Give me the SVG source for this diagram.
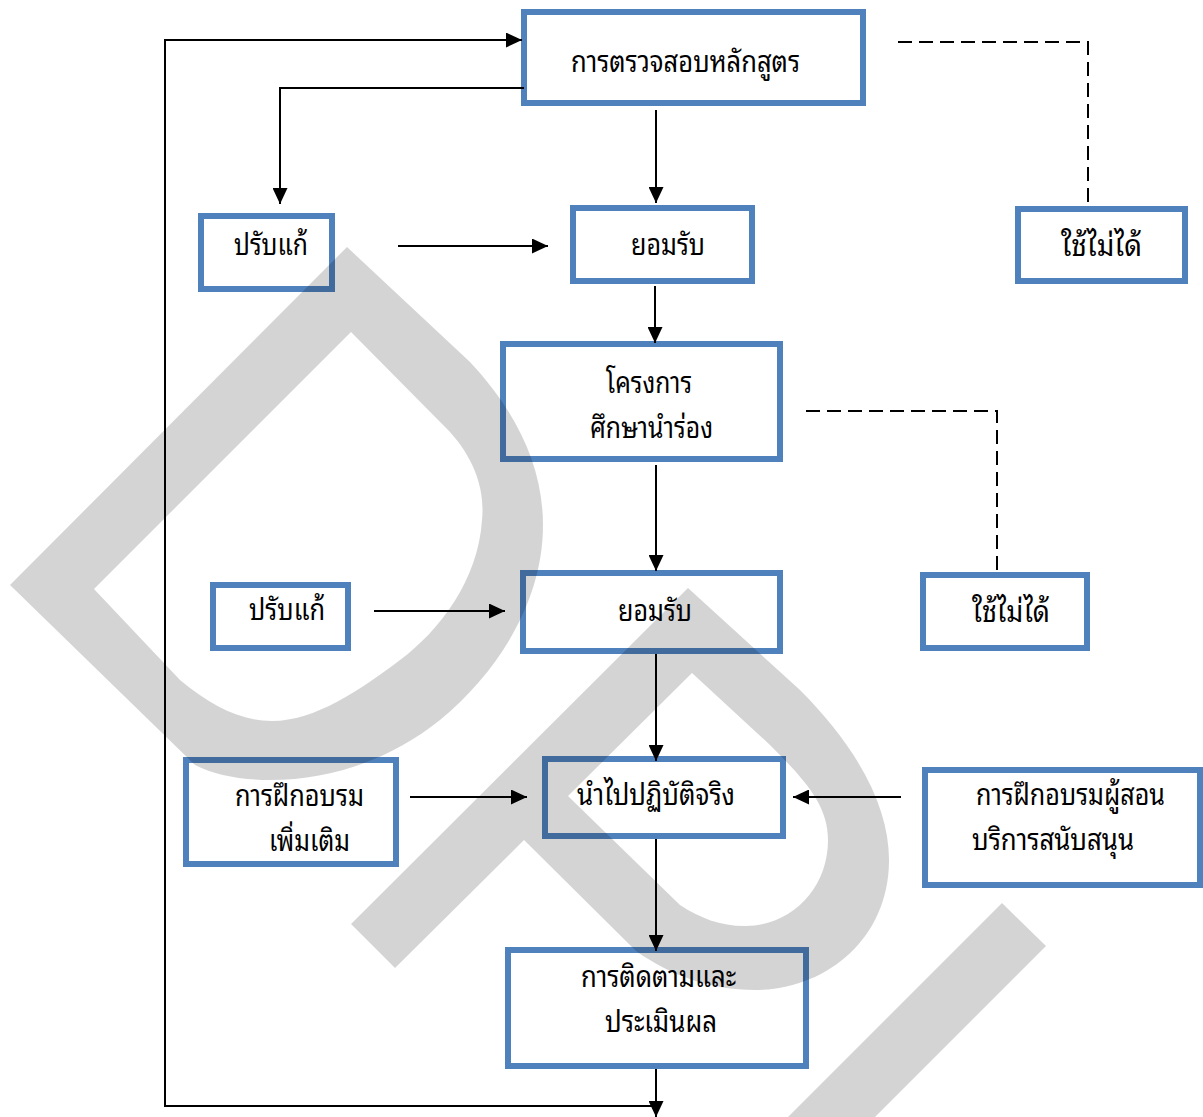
<svg xmlns="http://www.w3.org/2000/svg" width="1203" height="1117" viewBox="0 0 1203 1117">
<style>
.box{fill:#ffffff;stroke:#4f81bd;stroke-width:6}
.t{font-family:'Noto Sans Thai Looped','Noto Serif Thai','Noto Sans Thai','Noto Sans','DejaVu Sans',sans-serif;font-size:29px;fill:#000000}
.c{fill:none;stroke:#000000;stroke-width:2}
.d{fill:none;stroke:#000000;stroke-width:2;stroke-dasharray:14 7}
.wm{fill:#000000;fill-opacity:0.17;fill-rule:evenodd}
</style>
<defs>
<marker id="arr" markerUnits="userSpaceOnUse" markerWidth="16" markerHeight="15" refX="16" refY="7.5" orient="auto">
<path d="M0,0 L16,7.5 L0,15 Z" fill="#000000"/>
</marker>
</defs>
<rect width="1203" height="1117" fill="#ffffff"/>
<g id="n1"><rect class="box" x="524" y="12" width="339" height="91"/><text class="t" x="571" y="72" textLength="229" lengthAdjust="spacingAndGlyphs">การตรวจสอบหลักสูตร</text></g>
<g id="n2"><rect class="box" x="201" y="216" width="131" height="73"/><text class="t" x="234" y="255" textLength="74" lengthAdjust="spacingAndGlyphs">ปรับแก้</text></g>
<g id="n3"><rect class="box" x="573" y="208" width="179" height="73"/><text class="t" x="631" y="255" textLength="74" lengthAdjust="spacingAndGlyphs">ยอมรับ</text></g>
<g id="n4"><rect class="box" x="1018" y="209" width="167" height="72"/><text class="t" x="1061" y="256" textLength="81" lengthAdjust="spacingAndGlyphs">ใช้ไม่ได้</text></g>
<g id="n5"><rect class="box" x="503" y="344" width="277" height="115"/><text class="t" x="606" y="393" textLength="86" lengthAdjust="spacingAndGlyphs">โครงการ</text><text class="t" x="590" y="438" textLength="123" lengthAdjust="spacingAndGlyphs">ศึกษานำร่อง</text></g>
<g id="n6"><rect class="box" x="923" y="575" width="164" height="73"/><text class="t" x="972" y="622" textLength="78" lengthAdjust="spacingAndGlyphs">ใช้ไม่ได้</text></g>
<g id="n7"><rect class="box" x="213" y="585" width="135" height="63"/><text class="t" x="249" y="620" textLength="76" lengthAdjust="spacingAndGlyphs">ปรับแก้</text></g>
<g id="n8"><rect class="box" x="523" y="573" width="257" height="78"/><text class="t" x="618" y="621" textLength="74" lengthAdjust="spacingAndGlyphs">ยอมรับ</text></g>
<g id="n9"><rect class="box" x="186" y="760" width="210" height="104"/><text class="t" x="235" y="806" textLength="129" lengthAdjust="spacingAndGlyphs">การฝึกอบรม</text><text class="t" x="269" y="851" textLength="81" lengthAdjust="spacingAndGlyphs">เพิ่มเติม</text></g>
<g id="n10"><rect class="box" x="545" y="759" width="238" height="77"/><text class="t" x="577" y="805" textLength="158" lengthAdjust="spacingAndGlyphs">นำไปปฏิบัติจริง</text></g>
<g id="n11"><rect class="box" x="925" y="770" width="275" height="115"/><text class="t" x="976" y="805" textLength="189" lengthAdjust="spacingAndGlyphs">การฝึกอบรมผู้สอน</text><text class="t" x="972" y="850" textLength="162" lengthAdjust="spacingAndGlyphs">บริการสนับสนุน</text></g>
<g id="n12"><rect class="box" x="508" y="950" width="298" height="116"/><text class="t" x="581" y="987" textLength="155" lengthAdjust="spacingAndGlyphs">การติดตามและ</text><text class="t" x="605" y="1032" textLength="112" lengthAdjust="spacingAndGlyphs">ประเมินผล</text></g>
<g id="connectors">
<path class="c" d="M652,1106 H165 V40 H522" marker-end="url(#arr)"/>
<path class="c" d="M524,88 H280 V204" marker-end="url(#arr)"/>
<path class="c" d="M656,110 V203" marker-end="url(#arr)"/>
<path class="c" d="M398,246 H548" marker-end="url(#arr)"/>
<path class="c" d="M655,286 V343" marker-end="url(#arr)"/>
<path class="c" d="M656,465 V571" marker-end="url(#arr)"/>
<path class="c" d="M374,611 H505" marker-end="url(#arr)"/>
<path class="c" d="M656,654 V761" marker-end="url(#arr)"/>
<path class="c" d="M410,797 H527" marker-end="url(#arr)"/>
<path class="c" d="M901,797 H793" marker-end="url(#arr)"/>
<path class="c" d="M656,839 V951" marker-end="url(#arr)"/>
<path class="c" d="M656,1069 V1117" marker-end="url(#arr)"/>
<path class="d" d="M898,42 H1088 V207"/>
<path class="d" d="M806,411 H997 V573"/>
</g>
<g id="watermark">
<path class="wm" d="M10,585 L347,247 L470,362 C515,410 543,465 543,525 C543,600 500,670 440,720 C390,760 330,780 270,780 C240,780 215,775 195,765 Z M94,589 L351,332 L450,432 C475,460 485,490 482,520 C478,580 440,630 400,660 C360,690 315,721 272,721 C240,721 210,705 180,680 Z"/>
<path class="wm" d="M351,924 L688,588 L800,690 C860,750 890,810 889,862 C888,940 825,990 755,990 C710,990 670,975 636,951 L524,840 L395,968 Z M692,673 L770,745 C805,780 828,805 828,840 C828,890 790,926 745,926 C720,926 700,918 680,905 L568,796 Z"/>
<path class="wm" d="M1002,903 L1046,946 L860,1132 L773,1132 Z"/>
</g>
</svg>
